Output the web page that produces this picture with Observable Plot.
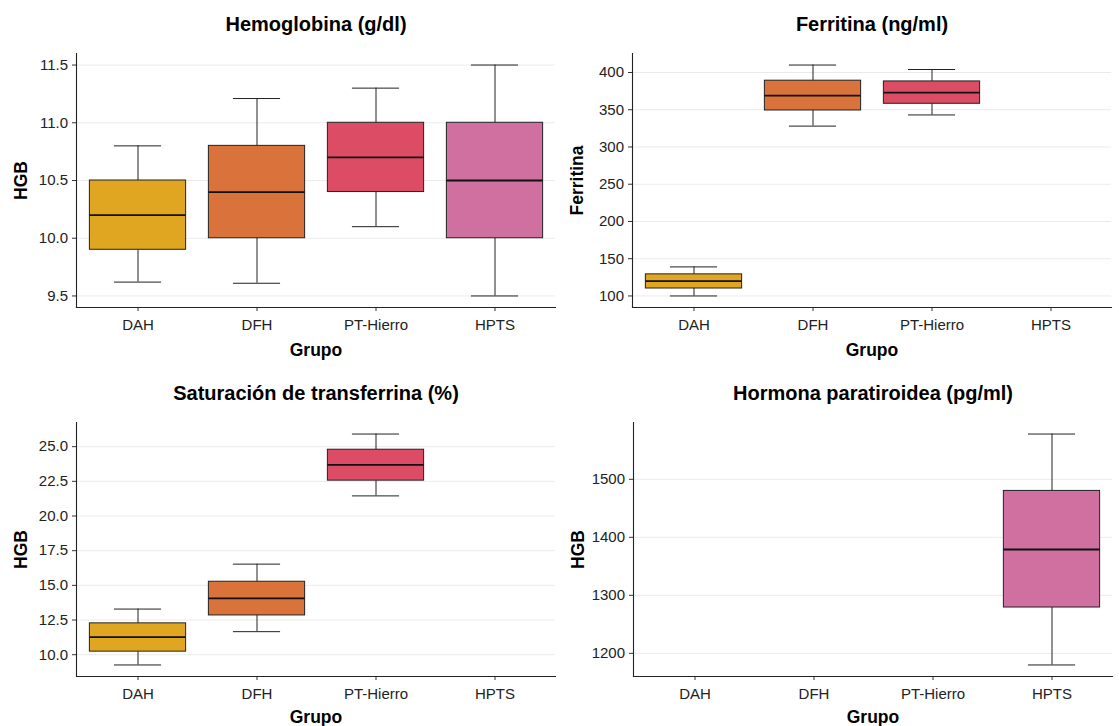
<!DOCTYPE html>
<html>
<head>
<meta charset="utf-8">
<script src="https://cdn.jsdelivr.net/npm/d3@7"></script>
<script src="https://cdn.jsdelivr.net/npm/@observablehq/plot@0.6"></script>
<style>
  html, body { margin: 0; padding: 0; background: #fff; }
  #wrap { position: relative; width: 1119px; height: 726px; overflow: hidden; }
  #wrap > div { position: absolute; }
  svg { font-family: "Liberation Sans", Arial, Helvetica, sans-serif; }
</style>
</head>
<body>
<div id="wrap"></div>
<script>
// Categories
const grupos = ["DAH", "DFH", "PT-Hierro", "HPTS"];
const colores = ["#E0A621", "#D9733B", "#DC4C64", "#D070A0"];

// Box statistics per group: [lower whisker, Q1, median, Q3, upper whisker]
const hemoglobina = [
  [9.62, 9.90, 10.20, 10.50, 10.80],
  [9.61, 10.00, 10.40, 10.80, 11.21],
  [10.10, 10.40, 10.70, 11.00, 11.30],
  [9.50, 10.00, 10.50, 11.00, 11.50]
];
const ferritina = [
  [100, 110, 120, 129, 139],
  [328, 349, 369, 389, 410],
  [343, 358, 373, 388, 404],
  null
];
const saturacion = [
  [9.26, 10.22, 11.27, 12.26, 13.29],
  [11.66, 12.83, 14.06, 15.26, 16.53],
  [21.45, 22.55, 23.68, 24.78, 25.91],
  null
];
const paratiroidea = [
  null,
  null,
  null,
  [1180, 1279, 1379, 1480, 1578]
];

// Tick values
const hgbTicks = [9.5, 10.0, 10.5, 11.0, 11.5];
const ferTicks = [100, 150, 200, 250, 300, 350, 400];
const satTicks = [10.0, 12.5, 15.0, 17.5, 20.0, 22.5, 25.0];
const pthTicks = [1200, 1300, 1400, 1500];

// Titles
const titulos = ["Hemoglobina (g/dl)", "Ferritina (ng/ml)", "Saturación de transferrina (%)", "Hormona paratiroidea (pg/ml)"];
const yLabels = ["HGB", "Ferritina", "HGB", "HGB"];
const xLabel = "Grupo";

function toRows(stats) {
  const rows = [];
  stats.forEach((s, i) => {
    if (s) rows.push({grupo: grupos[i], lo: s[0], q1: s[1], med: s[2], q3: s[3], hi: s[4]});
  });
  return rows;
}

function panel(stats, ticks, fmt, title, ylab, layout) {
  const rows = toRows(stats);
  const lo = d3.min(rows, d => d.lo), hi = d3.max(rows, d => d.hi);
  const pad = (hi - lo) * 0.05;
  const W = layout.w, H = layout.h;
  const plotW = W - layout.mL - layout.mR;
  const step = plotW / grupos.length;
  const boxInset = step * 0.095;
  const capInset = step * 0.30;
  const font = "Liberation Sans, Arial, Helvetica, sans-serif";
  const chart = Plot.plot({
    width: W,
    height: H,
    marginLeft: layout.mL,
    marginRight: layout.mR,
    marginTop: layout.mT,
    marginBottom: layout.mB,
    style: {fontFamily: font, background: "#fff", overflow: "visible"},
    x: {type: "band", domain: grupos, padding: 0, label: null},
    y: {domain: [lo - pad, hi + pad], label: null},
    color: {domain: grupos, range: colores},
    marks: [
      Plot.gridY(ticks, {stroke: "#ebebeb", strokeOpacity: 1, strokeWidth: 1}),
      Plot.ruleX(rows, {x: "grupo", y1: "lo", y2: "q1", stroke: "#222", strokeWidth: 1}),
      Plot.ruleX(rows, {x: "grupo", y1: "q3", y2: "hi", stroke: "#222", strokeWidth: 1}),
      Plot.tickY(rows, {x: "grupo", y: "lo", stroke: "#222", strokeWidth: 1, insetLeft: capInset, insetRight: capInset}),
      Plot.tickY(rows, {x: "grupo", y: "hi", stroke: "#222", strokeWidth: 1, insetLeft: capInset, insetRight: capInset}),
      Plot.barY(rows, {x: "grupo", y1: "q1", y2: "q3", fill: "grupo", stroke: "#222", strokeWidth: 1, insetLeft: boxInset, insetRight: boxInset}),
      Plot.tickY(rows, {x: "grupo", y: "med", stroke: "#111", strokeWidth: 1.8, insetLeft: boxInset, insetRight: boxInset}),
      Plot.axisY({ticks, tickFormat: fmt, tickSize: 4, tickPadding: 4.5, fontSize: 15, color: "#222", stroke: "#333", label: null}),
      Plot.axisX({tickSize: 4, tickPadding: 7.5, fontSize: 15, color: "#222", stroke: "#333", label: null}),
      Plot.frame({anchor: "left", stroke: "#222", strokeWidth: 1.1}),
      Plot.frame({anchor: "bottom", stroke: "#222", strokeWidth: 1.1}),
      Plot.text([title], {frameAnchor: "top", dy: -29, fontSize: 20, fontWeight: "bold", fill: "#000", lineAnchor: "middle", textAnchor: "middle"}),
      Plot.text([ylab], {frameAnchor: "left", dx: -55, rotate: -90, fontSize: 17.5, fontWeight: "bold", fill: "#000", lineAnchor: "middle", textAnchor: "middle"}),
      Plot.text([xLabel], {frameAnchor: "bottom", dy: layout.xlDy, fontSize: 17.5, fontWeight: "bold", fill: "#000", lineAnchor: "middle", textAnchor: "middle"})
    ]
  });
  const div = document.createElement("div");
  div.style.left = layout.left + "px";
  div.style.top = layout.top + "px";
  div.appendChild(chart);
  document.getElementById("wrap").appendChild(div);
}

const f1 = d3.format(".1f");
const f0 = d3.format("d");

panel(hemoglobina, hgbTicks, f1, titulos[0], yLabels[0], {left: 0, top: 0, w: 560, h: 363, mL: 76, mR: 5, mT: 53, mB: 56, xlDy: 43});
panel(ferritina, ferTicks, f0, titulos[1], yLabels[1], {left: 560, top: 0, w: 559, h: 363, mL: 72, mR: 8, mT: 53, mB: 56, xlDy: 43});
panel(saturacion, satTicks, f1, titulos[2], yLabels[2], {left: 0, top: 363, w: 560, h: 363, mL: 76, mR: 5, mT: 59, mB: 50, xlDy: 41});
panel(paratiroidea, pthTicks, f0, titulos[3], yLabels[3], {left: 560, top: 363, w: 559, h: 363, mL: 73, mR: 7, mT: 59, mB: 50, xlDy: 41});
</script>
</body>
</html>
